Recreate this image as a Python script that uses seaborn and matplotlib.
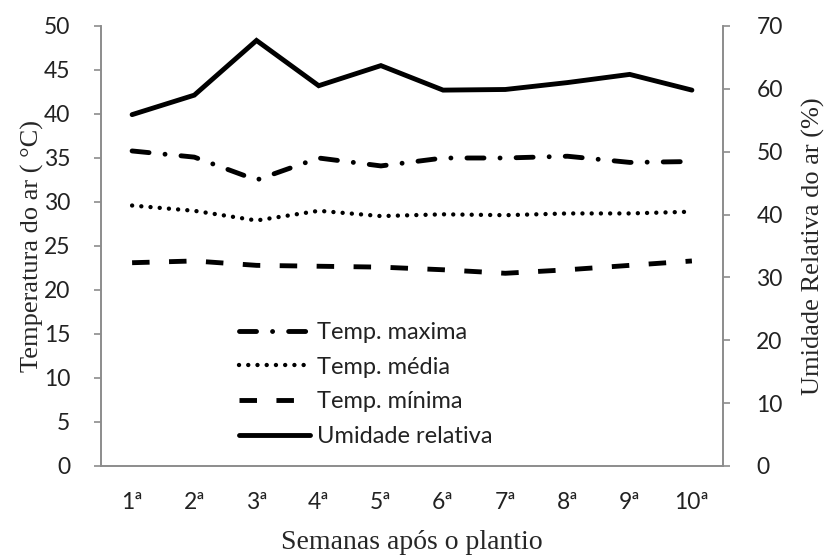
import matplotlib
matplotlib.use("Agg")
import matplotlib.pyplot as plt
import seaborn as sns
import numpy as np
import pandas as pd
from matplotlib.lines import Line2D

weeks = ['1ª', '2ª', '3ª', '4ª', '5ª', '6ª', '7ª', '8ª', '9ª', '10ª']
temp_max = [35.8, 35.1, 32.5, 35.0, 34.1, 35.0, 35.0, 35.2, 34.5, 34.6]
temp_med = [29.6, 29.0, 27.9, 29.0, 28.4, 28.6, 28.5, 28.7, 28.7, 28.9]
temp_min = [23.1, 23.3, 22.8, 22.7, 22.6, 22.3, 21.9, 22.3, 22.8, 23.3]
umidade = [55.9, 59.0, 67.7, 60.5, 63.7, 59.8, 59.9, 61.0, 62.3, 59.8]

labels = ['Temp. maxima', 'Temp. média', 'Temp. mínima', 'Umidade relativa']
left_ticks = [0, 5, 10, 15, 20, 25, 30, 35, 40, 45, 50]
right_ticks = [0, 10, 20, 30, 40, 50, 60, 70]

sns.set_style("white")
plt.rcParams['font.family'] = ['Lato', 'DejaVu Sans']

df = pd.DataFrame({'x': np.arange(len(weeks)), 'tmax': temp_max, 'tmed': temp_med,
                   'tmin': temp_min, 'ur': umidade})

fig = plt.figure(figsize=(8.3, 5.58), dpi=100)
L, R, T, B = 101, 723, 26, 466
ax = fig.add_axes([L/830, 1-B/558, (R-L)/830, (B-T)/558])
ax2 = ax.twinx()

lw = 3.5
styles = {
    'tmax': (0, (3.5, 3.3, 0.01, 3.3)),
    'tmed': (0, (0.01, 2.1)),
    'tmin': (0, (3.6, 4.0)),
}
sns.lineplot(data=df, x='x', y='tmax', ax=ax, color='black', lw=lw,
             linestyle=styles['tmax'], dash_capstyle='round')
sns.lineplot(data=df, x='x', y='tmed', ax=ax, color='black', lw=lw * 0.9,
             linestyle=styles['tmed'], dash_capstyle='round')
sns.lineplot(data=df, x='x', y='tmin', ax=ax, color='black', lw=lw,
             linestyle=styles['tmin'], dash_capstyle='butt')
sns.lineplot(data=df, x='x', y='ur', ax=ax2, color='black', lw=lw, solid_joinstyle='miter')

gray = '#8c8c8c'
for a in (ax, ax2):
    a.set_xlim(-0.5, len(weeks) - 0.5)
    for s in a.spines.values():
        s.set_color(gray)
        s.set_linewidth(1.2)
    a.spines['top'].set_visible(False)
    a.grid(False)

ax.set_ylim(0, 50)
ax2.set_ylim(0, 70)
ax.set_yticks(left_ticks)
ax2.set_yticks(right_ticks)

fs_tick = 16.5
ax.set_xticks(np.arange(len(weeks)))
ax.set_xticklabels(weeks)
ax.set_xticks(np.arange(len(weeks) + 1) - 0.5, minor=True)
ax.tick_params(axis='x', which='major', length=0, pad=19, labelsize=fs_tick, labelcolor='#222222')
ax.tick_params(axis='x', which='minor', length=7, width=1.2, color=gray, direction='out')
ax.tick_params(axis='y', length=5, width=1.2, color=gray, direction='out', pad=17,
               labelsize=fs_tick, labelcolor='#222222', left=True)
ax2.tick_params(axis='y', length=5, width=1.2, color=gray, direction='out', pad=19,
                labelsize=fs_tick, labelcolor='#222222', right=True)

serif = ['Liberation Serif', 'DejaVu Serif']
ax.set_xlabel('Semanas após o plantio', fontsize=20, family=serif, labelpad=12)
ax.set_ylabel('Temperatura do ar ( °C)', fontsize=19, family=serif, labelpad=0)
ax2.set_ylabel('Umidade Relativa do ar (%)', fontsize=19, family=serif, rotation=90, labelpad=14)

handles = [Line2D([], [], color='black', lw=lw, linestyle=styles['tmax'], dash_capstyle='round'),
           Line2D([], [], color='black', lw=lw * 0.9, linestyle=styles['tmed'], dash_capstyle='round'),
           Line2D([], [], color='black', lw=lw, linestyle=styles['tmin']),
           Line2D([], [], color='black', lw=lw)]
leg = ax.legend(handles, labels, loc='upper left', bbox_to_anchor=(239/830, 1-322/558),
                bbox_transform=fig.transFigure, frameon=False, fontsize=17,
                handlelength=3.0, handletextpad=0.3, labelspacing=0.58, borderpad=0,
                borderaxespad=0)
for t in leg.get_texts():
    t.set_color('#222222')

fig.savefig('out.png', dpi=100)
